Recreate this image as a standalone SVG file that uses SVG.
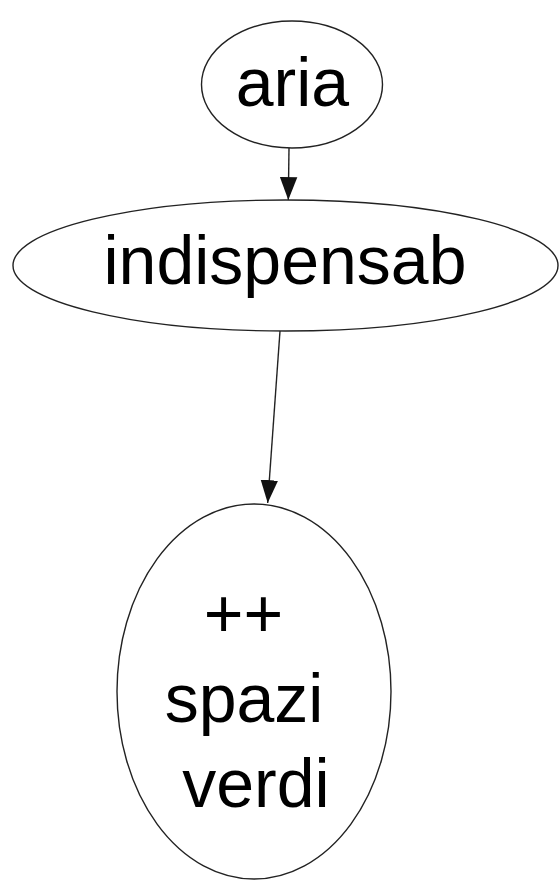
<svg xmlns="http://www.w3.org/2000/svg" width="560" height="881" viewBox="0 0 560 881">
<defs>
<style>
.node ellipse{fill:#fff;stroke:#222;stroke-width:1.4}
.node text{font-family:"Liberation Sans",Arial,sans-serif;font-size:68px;fill:#000;text-anchor:middle}
.edge line{stroke:#222;stroke-width:1.4}
</style>
<marker id="arr" markerUnits="userSpaceOnUse" markerWidth="24" markerHeight="18" viewBox="0 0 22 16" refX="21" refY="8" orient="auto">
<path d="M0,0 L21,8 L0,16 Z" fill="#111"/>
</marker>
</defs>
<rect width="560" height="881" fill="#fff"/>
<g id="edges" class="edge">
<line x1="289" y1="148" x2="288.3" y2="200" marker-end="url(#arr)"/>
<line x1="280" y1="331" x2="267.7" y2="503" marker-end="url(#arr)"/>
</g>
<g id="node-aria" class="node">
<ellipse cx="292" cy="84.5" rx="90.5" ry="63.5"/>
<text x="292.5" y="106">aria</text>
</g>
<g id="node-indispensab" class="node">
<ellipse cx="285.5" cy="265.5" rx="272.5" ry="65.5"/>
<text x="285" y="284">indispensab</text>
</g>
<g id="node-spazi" class="node">
<ellipse cx="254" cy="691.5" rx="137" ry="187.5"/>
<text x="243.5" y="637">++</text>
<text x="244" y="722">spazi</text>
<text x="256" y="807">verdi</text>
</g>
</svg>
